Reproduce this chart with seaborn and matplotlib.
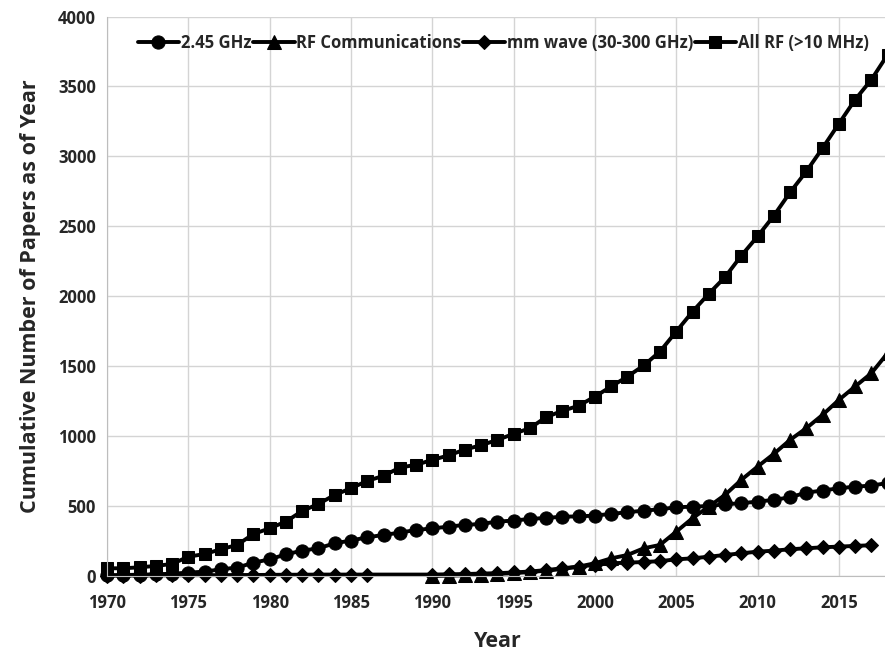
import numpy as np
import pandas as pd
import matplotlib
matplotlib.use("Agg")
import matplotlib.pyplot as plt
import seaborn as sns

# data
years = list(range(1970, 2019))

ghz_245 = [5, 7, 9, 12, 16, 24, 31, 48, 60, 95, 119, 155, 181, 198, 234, 253, 277,
           293, 310, 329, 340, 353, 365, 372, 389, 396, 408, 415, 424, 426, 432, 444,
           456, 467, 477, 491, 496, 500, 513, 520, 532, 544, 563, 596, 611, 627, 639,
           646, 665]

# RF communications starts in 1990
rf_comm = [np.nan] * 20 + [0, 2, 5, 10, 15, 20, 28, 38, 50, 67, 91, 126, 150, 198,
                           222, 317, 413, 496, 580, 687, 782, 873, 973, 1057, 1152,
                           1259, 1355, 1450, 1594]

# mm wave ends in 2017, no markers 1987-1989
mm_wave = [2, 3, 3, 4, 5, 5, 6, 6, 7, 7, 8, 9, 9, 10, 10, 10, 10, 10, 10, 10,
           10, 12, 14, 17, 20, 25, 32, 42, 55, 67, 79, 91, 95, 100, 106, 119, 126,
           138, 150, 162, 174, 181, 191, 198, 205, 210, 215, 220, np.nan]
mm_no_marker = [1987, 1988, 1989]

all_rf = [55, 55, 62, 72, 86, 138, 157, 191, 222, 300, 341, 389, 465, 515, 580, 627,
          680, 716, 775, 795, 830, 862, 904, 935, 973, 1016, 1057, 1136, 1181, 1217,
          1283, 1355, 1426, 1505, 1605, 1748, 1890, 2018, 2137, 2290, 2428, 2576,
          2743, 2893, 3060, 3234, 3406, 3549, 3728]

series_names = ["2.45 GHz", "RF Communications", "mm wave (30-300 GHz)", "All RF (>10 MHz)"]

df = pd.DataFrame({"Year": years, series_names[0]: ghz_245, series_names[1]: rf_comm,
                   series_names[2]: mm_wave, series_names[3]: all_rf})

sns.set_style("whitegrid")
plt.rcParams['font.family'] = ['Open Sans', 'DejaVu Sans']

fig = plt.figure(figsize=(8.85, 6.52), dpi=100)
ax = fig.add_axes([0.121, 0.1166, 0.882, 0.858])

markers = {series_names[0]: ("o", 9.5), series_names[1]: ("^", 10),
           series_names[2]: ("D", 7.5), series_names[3]: ("s", 9)}

for name in series_names:
    sub = df[["Year", name]].dropna().reset_index(drop=True)
    mk, ms = markers[name]
    extra = {}
    if name == series_names[2]:
        extra["markevery"] = [i for i, yr in enumerate(sub["Year"]) if yr not in mm_no_marker]
    sns.lineplot(data=sub, x="Year", y=name, ax=ax, color="black", linewidth=2.8,
                 marker=mk, markersize=ms, label=name, markeredgecolor="black",
                 clip_on=False, **extra)

ax.set_xlim(1970, 2018)
ax.set_ylim(0, 4000)
ax.set_xticks(range(1970, 2016, 5))
ax.set_yticks(range(0, 4001, 500))
ax.grid(True, color="#d4d4d4", linewidth=1.0)
for s in ["top", "right"]:
    ax.spines[s].set_visible(False)
for s in ["left", "bottom"]:
    ax.spines[s].set_color("#bdbdbd")
ax.tick_params(axis="y", length=0, labelsize=12, pad=8)
ax.tick_params(axis="x", length=0, labelsize=12, pad=13)
for lab in ax.get_xticklabels() + ax.get_yticklabels():
    lab.set_fontweight("bold")

ax.set_xlabel("Year", fontsize=15.5, fontweight="bold", labelpad=14)
ax.set_ylabel("Cumulative Number of Papers as of Year", fontsize=15.5, fontweight="bold",
              labelpad=12)

leg = ax.legend(loc="upper left", bbox_to_anchor=(0.148, 0.958), bbox_transform=fig.transFigure,
                ncol=4, frameon=False, prop={"size": 12, "weight": "bold"},
                handlelength=2.5, handletextpad=0.1, columnspacing=0.1, borderaxespad=0)

fig.savefig("out.png", dpi=100)
